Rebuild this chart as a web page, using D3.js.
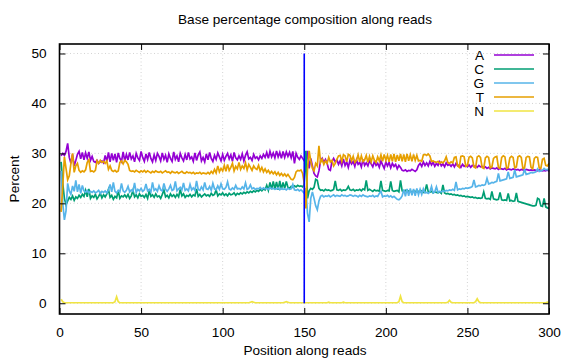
<!DOCTYPE html>
<html><head><meta charset="utf-8">
<script src="https://cdn.jsdelivr.net/npm/d3@7"></script>
<style>body{margin:0;background:#fff}svg{display:block}text{font-family:"Liberation Sans",Arial,sans-serif;fill:#000}</style>
</head><body><svg id="c" width="576" height="360"></svg>
<script>
const positions = d3.range(1, 301);
const seriesNames = ["A", "C", "G", "T", "N"];
const seriesColors = ["#9400d3", "#009e73", "#56b4e9", "#e69f00", "#f0e442"];
const xTicks = [0, 50, 100, 150, 200, 250, 300];
const yTicks = [0, 10, 20, 30, 40, 50];
const markerPos = 150;
const markerRange = [0, 50];
const titleText = "Base percentage composition along reads";
const xLabel = "Position along reads";
const yLabel = "Percent";

const valuesA = [
29.5,30.0,29.6,30.4,32.0,29.2,28.0,29.8,27.5,28.6,
29.8,30.4,28.9,30.2,28.7,30.1,29.0,30.3,28.6,29.4,
28.4,28.2,28.6,28.0,28.3,28.5,28.1,29.6,28.4,30.2,
28.3,30.0,28.6,29.9,28.2,30.1,29.0,28.4,30.3,28.5,
29.8,28.7,30.2,28.9,29.5,28.3,30.0,29.1,28.6,30.4,
29.2,28.4,29.9,28.8,30.2,29.0,28.3,29.7,28.6,30.0,
29.4,28.5,30.1,28.8,29.6,28.2,29.9,29.0,28.4,30.3,
28.8,29.5,28.3,30.0,29.1,28.5,29.8,28.7,30.2,28.9,
29.3,28.4,30.1,28.6,29.7,30.3,28.5,29.2,28.3,29.9,
28.7,30.2,29.0,28.4,29.6,28.8,30.1,29.3,28.5,29.8,
28.6,29.4,30.0,28.9,29.7,28.4,30.2,29.1,28.7,29.5,
28.8,29.9,28.5,29.6,30.3,28.9,29.2,28.6,29.8,29.0,
29.3,28.7,29.5,29.0,29.8,29.2,30.2,29.0,30.4,29.3,
30.1,29.1,30.5,29.3,30.2,29.0,30.4,29.2,30.3,29.4,
30.2,29.1,30.4,28.0,30.0,29.2,28.8,29.5,29.0,28.5,
28.0,30.5,27.0,29.0,27.5,26.0,25.5,25.3,26.5,28.5,
29.0,28.2,28.8,28.0,26.8,26.6,28.4,29.0,28.3,28.7,
27.8,28.5,27.5,28.9,27.6,28.3,27.2,28.6,27.9,28.4,
27.4,28.7,27.8,28.2,27.3,28.8,27.6,28.1,27.5,28.6,
27.9,27.3,28.4,27.6,28.0,27.2,28.5,27.7,27.0,28.3,
27.5,28.2,27.1,28.0,27.4,27.8,26.9,27.6,27.2,26.6,
26.5,26.7,26.4,26.6,26.5,26.8,26.6,26.4,26.7,27.6,
28.0,27.4,28.3,27.6,28.1,27.5,28.4,27.7,28.2,27.4,
28.0,27.6,28.3,27.5,27.9,27.3,28.1,27.6,27.8,27.4,
27.9,27.3,28.0,27.5,27.7,27.2,27.8,27.4,27.6,27.3,
27.7,27.2,27.6,27.4,27.5,27.2,27.6,27.3,27.4,27.1,
27.3,27.0,27.2,26.9,27.1,27.0,26.9,27.1,26.8,27.0,
26.9,26.8,27.0,26.7,26.9,26.8,26.7,26.9,26.8,26.7,
26.8,26.6,26.8,26.7,26.6,26.8,26.7,26.6,26.7,26.6,
26.7,26.6,26.5,26.7,26.6,26.5,26.6,26.5,26.7,26.4];

const valuesC = [
28.3,24.0,21.0,19.7,20.5,21.2,20.8,21.5,20.6,21.3,
21.0,21.6,21.2,21.8,21.4,22.6,21.3,22.9,21.0,21.5,
21.2,21.8,20.9,21.4,22.0,21.1,21.7,21.3,21.9,22.8,
21.2,21.6,20.8,21.4,21.1,22.5,21.0,21.5,21.3,21.7,
21.2,21.8,21.0,21.5,22.6,21.3,21.7,21.1,21.9,21.4,
21.6,21.2,21.8,21.0,22.5,21.4,21.7,21.2,21.9,21.3,
21.5,21.0,21.8,22.7,21.3,21.6,21.1,21.9,21.4,21.7,
21.2,21.8,21.3,22.8,21.5,21.9,21.2,21.6,21.4,21.8,
21.3,21.7,21.5,22.9,21.4,21.8,21.3,21.6,21.9,21.5,
21.7,21.4,22.0,21.6,21.8,22.7,21.5,21.9,21.7,22.1,
21.6,21.9,21.5,22.0,21.7,21.8,22.1,21.6,22.0,21.8,
22.1,21.9,22.2,22.0,22.3,22.1,22.4,22.2,22.5,22.3,
22.6,22.4,22.8,22.5,22.9,22.7,23.6,22.6,24.2,22.8,
24.4,22.9,24.3,22.7,24.5,22.8,24.2,23.0,24.4,23.2,
23.0,23.4,23.2,23.5,23.3,23.6,23.4,23.5,23.3,23.8,
30.5,21.0,22.5,23.0,22.8,23.2,24.8,24.6,23.0,22.6,
22.7,22.5,22.8,22.6,22.7,22.5,22.6,22.8,24.5,22.7,
22.6,22.8,22.5,22.7,22.6,22.8,23.4,22.7,22.6,22.8,
22.5,22.7,22.6,22.8,22.5,22.9,22.7,24.6,22.6,22.8,
22.6,22.4,22.7,22.5,22.6,22.4,24.5,22.6,22.5,22.4,
22.6,22.5,24.4,22.6,22.4,22.5,22.6,22.3,24.6,22.5,
22.4,22.6,22.3,22.5,22.4,22.3,22.5,22.4,22.3,22.4,
22.3,22.5,22.2,22.4,23.8,22.3,22.2,22.4,22.1,22.3,
22.2,22.1,22.3,22.0,23.7,22.1,21.9,22.0,21.8,21.9,
21.7,21.8,21.6,21.7,21.5,21.6,21.4,21.5,21.3,21.4,
21.3,21.2,21.3,21.1,21.2,21.0,21.1,21.0,21.1,22.3,
21.0,20.9,21.0,20.8,22.4,20.9,20.8,20.7,20.8,22.2,
20.7,20.6,20.7,20.6,22.0,20.5,20.6,20.4,20.5,22.1,
20.4,20.3,20.2,20.1,20.0,19.9,19.8,19.7,19.6,19.5,
19.5,19.6,21.0,20.8,19.5,19.4,21.0,19.3,19.1,19.0];

const valuesG = [
26.5,20.0,16.7,18.5,24.0,22.5,21.8,23.5,22.4,24.6,
22.3,23.8,22.0,23.6,22.5,22.2,22.6,22.1,22.4,22.2,
22.5,22.1,22.3,22.6,22.0,22.4,22.2,22.5,22.1,22.7,
23.8,22.3,24.2,22.4,22.1,22.6,22.3,24.0,22.5,22.2,
22.6,23.4,22.3,22.7,22.4,24.1,22.2,22.8,22.5,23.0,
22.4,22.7,23.9,22.5,22.8,22.3,24.2,22.6,22.9,22.4,
23.5,22.7,22.5,24.0,22.8,22.4,22.9,23.6,22.6,22.8,
24.4,22.5,22.9,23.2,22.7,24.1,22.6,22.9,22.5,23.8,
22.7,23.1,22.6,24.5,22.8,22.6,23.3,22.7,24.2,22.9,
22.8,23.4,22.6,24.0,22.9,22.7,23.5,22.8,23.9,22.9,
22.8,23.2,24.3,22.9,22.7,23.1,22.8,23.6,22.9,23.0,
22.8,23.3,22.9,24.1,22.8,23.0,23.7,22.9,23.1,22.8,
23.0,22.9,23.2,22.8,23.1,22.9,23.0,22.8,23.2,22.9,
23.0,22.8,22.9,23.1,22.7,23.0,22.8,22.9,22.7,23.0,
22.8,22.9,23.8,22.7,22.6,22.8,22.5,22.7,22.4,22.0,
23.0,18.0,16.3,21.0,22.3,21.0,19.5,18.7,20.5,21.4,
21.6,21.3,21.5,21.4,21.6,21.3,21.5,21.7,21.4,21.6,
21.5,21.4,21.7,21.5,21.6,21.4,21.5,21.7,21.6,21.4,
21.6,21.5,21.3,21.6,21.4,21.7,21.5,21.4,21.3,21.5,
21.4,21.6,21.3,21.5,21.4,22.0,22.4,21.3,21.5,21.4,
21.6,21.3,21.5,21.2,21.4,21.1,20.8,20.7,21.0,21.5,
22.8,21.4,22.9,21.5,23.0,21.6,22.9,21.5,23.0,21.7,
22.8,21.8,22.9,22.1,22.2,22.0,22.3,23.4,22.1,22.3,
23.3,22.2,22.4,22.3,22.5,22.4,22.6,22.5,22.7,22.6,
22.8,22.6,24.3,22.7,22.9,22.8,23.0,22.9,23.1,23.0,
23.1,23.2,23.4,24.7,23.3,23.4,23.6,23.5,23.7,23.6,
23.8,25.0,23.9,24.0,24.2,24.1,24.3,24.4,26.0,24.5,
24.6,24.7,24.8,24.9,26.3,25.0,25.1,25.2,26.7,25.3,
25.4,25.5,25.6,25.7,26.8,25.8,25.9,26.0,26.2,26.1,
26.2,26.3,26.9,26.4,26.5,26.6,27.0,26.7,26.8,26.6];

const valuesT = [
18.3,23.5,29.3,27.0,24.7,25.5,28.0,30.0,26.2,27.5,
28.0,26.6,26.2,26.5,26.3,26.7,28.2,28.7,26.4,26.5,
26.3,26.6,28.5,28.0,28.6,28.2,28.4,28.0,28.5,26.8,
27.5,26.6,26.4,26.6,26.3,26.5,28.2,28.5,27.9,28.6,
28.3,27.8,26.6,26.4,26.5,26.3,26.6,26.4,26.2,26.5,
26.3,26.6,26.2,26.5,26.3,26.1,26.4,26.2,26.5,26.3,
26.2,26.4,26.1,26.3,26.5,26.2,26.3,26.0,26.4,26.2,
26.1,26.3,26.0,26.2,26.4,26.1,26.0,26.3,26.1,26.2,
26.0,26.2,25.9,26.1,26.0,26.2,25.9,26.1,26.0,25.9,
26.2,25.9,26.4,26.0,26.8,26.1,27.5,26.3,27.0,26.5,
27.6,26.4,27.8,26.6,27.2,28.0,26.5,27.4,26.9,28.2,
26.8,27.5,27.0,28.1,26.7,27.8,27.2,26.6,27.5,27.0,
26.8,27.6,26.5,27.2,26.3,26.9,26.2,26.6,26.0,26.4,
25.9,26.3,25.7,26.2,25.6,26.0,25.5,25.9,25.4,25.8,
25.3,24.8,24.7,25.2,26.3,26.6,26.5,26.7,26.0,24.0,
19.0,27.0,30.5,28.5,27.0,26.5,28.0,27.5,31.5,28.2,
28.8,27.8,28.5,28.0,29.2,28.3,28.6,27.5,28.0,28.8,
29.5,29.6,28.4,29.7,29.5,28.3,29.8,29.6,28.5,29.4,
28.2,28.6,29.7,28.3,29.5,28.4,28.7,29.6,28.2,29.4,
28.3,29.5,28.6,28.2,29.3,28.5,29.7,28.4,29.8,28.6,
29.6,28.3,29.8,28.4,29.9,28.3,29.7,28.5,29.9,28.4,
29.8,28.3,29.9,28.5,29.7,28.4,29.8,28.6,29.6,28.5,
28.6,28.4,29.7,29.8,29.6,29.9,29.5,28.4,28.5,28.3,
28.2,28.4,28.0,28.3,28.1,28.5,29.3,28.2,28.0,28.3,
28.1,29.2,29.3,27.5,27.2,29.4,29.5,29.3,27.4,27.6,
29.2,29.4,29.1,27.3,27.1,29.3,29.5,29.2,27.2,27.0,
29.1,29.4,29.2,27.1,27.3,29.0,29.3,29.4,27.2,27.0,
29.2,29.5,29.3,27.0,27.2,29.1,29.4,29.2,27.1,27.3,
29.3,29.5,29.2,27.0,27.1,29.2,29.4,29.3,27.2,26.9,
29.0,29.3,29.2,27.1,27.0,28.8,29.0,27.6,27.5,28.0];

const valuesN = [
0.8,0.3,0.1,0.1,0.1,0.1,0.1,0.1,0.1,0.1,
0.1,0.1,0.1,0.1,0.1,0.1,0.1,0.1,0.1,0.1,
0.1,0.1,0.1,0.1,0.1,0.1,0.1,0.1,0.1,0.1,
0.1,0.1,0.1,0.3,1.3,0.3,0.1,0.1,0.1,0.1,
0.1,0.1,0.1,0.1,0.1,0.1,0.1,0.1,0.1,0.1,
0.1,0.1,0.1,0.1,0.1,0.1,0.1,0.1,0.1,0.1,
0.1,0.1,0.1,0.1,0.1,0.1,0.1,0.1,0.1,0.1,
0.1,0.1,0.1,0.1,0.1,0.1,0.1,0.1,0.1,0.1,
0.1,0.1,0.1,0.1,0.1,0.1,0.1,0.1,0.1,0.1,
0.1,0.1,0.1,0.1,0.1,0.1,0.1,0.1,0.1,0.1,
0.1,0.1,0.1,0.1,0.1,0.1,0.1,0.1,0.1,0.1,
0.1,0.1,0.1,0.1,0.1,0.1,0.2,0.3,0.2,0.1,
0.1,0.1,0.1,0.1,0.1,0.1,0.1,0.1,0.1,0.1,
0.1,0.1,0.1,0.1,0.1,0.1,0.1,0.2,0.3,0.2,
0.1,0.1,0.1,0.1,0.1,0.1,0.1,0.1,0.1,0.1,
0.1,0.1,0.1,0.1,0.1,0.1,0.1,0.1,0.1,0.1,
0.1,0.1,0.1,0.1,0.2,0.1,0.1,0.1,0.1,0.1,
0.1,0.1,0.1,0.2,0.1,0.1,0.1,0.1,0.1,0.1,
0.1,0.1,0.1,0.1,0.1,0.1,0.1,0.1,0.1,0.1,
0.1,0.1,0.1,0.1,0.1,0.1,0.1,0.1,0.1,0.1,
0.1,0.1,0.1,0.1,0.1,0.1,0.1,0.3,1.4,0.3,
0.1,0.1,0.1,0.1,0.1,0.1,0.1,0.1,0.1,0.1,
0.1,0.1,0.1,0.1,0.1,0.1,0.1,0.1,0.1,0.1,
0.1,0.1,0.1,0.1,0.1,0.1,0.1,0.2,0.6,0.2,
0.1,0.1,0.1,0.1,0.1,0.1,0.1,0.1,0.1,0.1,
0.1,0.1,0.1,0.1,0.3,0.9,0.3,0.1,0.1,0.1,
0.1,0.1,0.1,0.1,0.1,0.1,0.1,0.1,0.1,0.1,
0.1,0.1,0.1,0.1,0.1,0.1,0.1,0.1,0.1,0.1,
0.1,0.1,0.1,0.1,0.1,0.1,0.1,0.1,0.1,0.1,
0.1,0.1,0.1,0.1,0.1,0.1,0.1,0.1,0.2,0.1];

const seriesValues = [valuesA, valuesC, valuesG, valuesT, valuesN];

const FS = 13.6;
const svg = d3.select("#c");
const L = 59.5, R = 549, T = 44, B = 314;
const x = d3.scaleLinear().domain([0, 300]).range([L, R]);
const y = d3.scaleLinear().domain([-2.15, 51.9]).range([B, T]);

// grid
const g = svg.append("g");
g.selectAll(".gx").data(xTicks.slice(1, -1)).join("line")
  .attr("x1", d => x(d)).attr("x2", d => x(d)).attr("y1", T).attr("y2", B)
  .attr("stroke", "#c8c8c8").attr("stroke-width", 0.8).attr("stroke-dasharray", "1,2.5");
g.selectAll(".gy").data(yTicks).join("line")
  .attr("x1", L).attr("x2", R).attr("y1", d => y(d)).attr("y2", d => y(d))
  .attr("stroke", "#c8c8c8").attr("stroke-width", 0.8).attr("stroke-dasharray", "1,2.5");

// series
const line = d3.line().x((d, i) => x(positions[i])).y(d => y(d));
const plot = svg.append("g");
seriesValues.forEach((vals, k) => {
  plot.append("path").datum(vals).attr("d", line)
    .attr("fill", "none").attr("stroke", seriesColors[k]).attr("stroke-width", 1.7)
    .attr("stroke-linejoin", "miter");
});

// marker vertical line
svg.append("line").attr("x1", x(markerPos)).attr("x2", x(markerPos))
  .attr("y1", y(markerRange[0])).attr("y2", y(markerRange[1]))
  .attr("stroke", "#0000ff").attr("stroke-width", 1.6);

// axes (ticks inward, mirrored)
const tl = 6;
const axB = svg.append("g").attr("transform", `translate(0,${B})`)
  .call(d3.axisBottom(x).tickValues(xTicks).tickSize(-tl).tickPadding(tl + 7).tickSizeOuter(0));
const axT = svg.append("g").attr("transform", `translate(0,${T})`)
  .call(d3.axisTop(x).tickValues(xTicks).tickSize(-tl).tickFormat("").tickSizeOuter(0));
const axL = svg.append("g").attr("transform", `translate(${L},0)`)
  .call(d3.axisLeft(y).tickValues(yTicks).tickSize(-tl).tickPadding(tl + 7).tickSizeOuter(0));
const axR = svg.append("g").attr("transform", `translate(${R},0)`)
  .call(d3.axisRight(y).tickValues(yTicks).tickSize(-tl).tickFormat("").tickSizeOuter(0));
[axB, axT, axL, axR].forEach(a => {
  a.select(".domain").remove();
  a.selectAll("line").attr("stroke", "#000").attr("stroke-width", 1);
  a.selectAll("text").attr("font-size", FS).attr("fill", "#000")
    .style("font-family", '"Liberation Sans", Arial, sans-serif');
});

// border
svg.append("rect").attr("x", L).attr("y", T).attr("width", R - L).attr("height", B - T)
  .attr("fill", "none").attr("stroke", "#000").attr("stroke-width", 1.6);

// legend
const leg = svg.append("g");
seriesNames.forEach((n, k) => {
  const yy = 55 + k * 14;
  leg.append("text").attr("x", 484).attr("y", yy).attr("dy", "0.35em")
    .attr("text-anchor", "end").attr("font-size", FS).attr("fill", "#000").text(n);
  leg.append("line").attr("x1", 494).attr("x2", 534).attr("y1", yy).attr("y2", yy)
    .attr("stroke", seriesColors[k]).attr("stroke-width", 1.7);
});

// titles
svg.append("text").attr("x", 305).attr("y", 24).attr("text-anchor", "middle")
  .attr("font-size", FS).text(titleText);
svg.append("text").attr("x", 305).attr("y", 355).attr("text-anchor", "middle")
  .attr("font-size", FS).text(xLabel);
svg.append("text").attr("transform", `translate(19,${(T + B) / 2}) rotate(-90)`)
  .attr("text-anchor", "middle").attr("font-size", FS).text(yLabel);
</script></body></html>
